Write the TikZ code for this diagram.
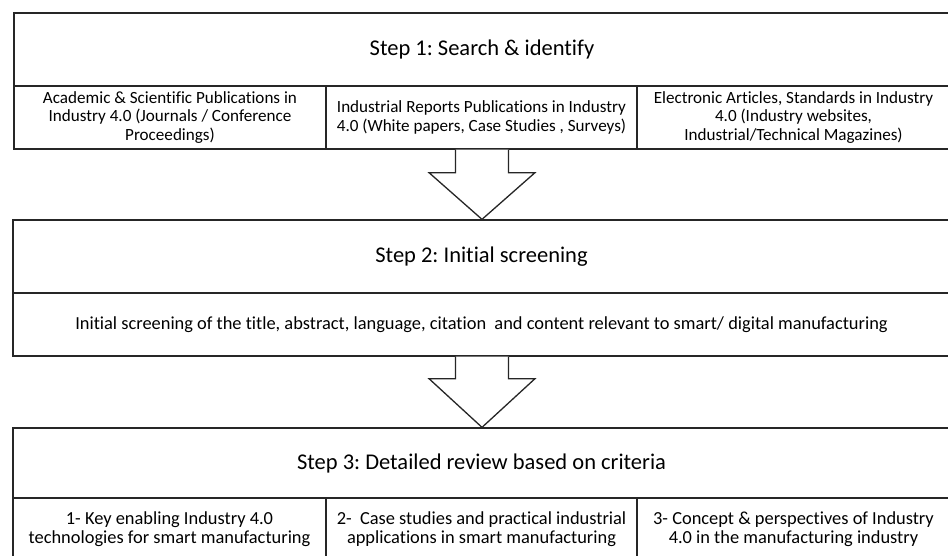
\documentclass[tikz,border=0pt]{standalone}
\usepackage{fontspec}
\setmainfont{Carlito}[Ligatures=NoCommon]
\frenchspacing
\usetikzlibrary{calc}
\begin{document}
\begin{tikzpicture}[x=1pt,y=-1pt,
  line width=1.3pt,
  cell/.style={draw=black!85, line width=1.3pt, align=center, inner sep=0pt, font=\fontsize{17.1}{18.3}\selectfont},
  wcell/.style={cell, font=\fontsize{18.4}{19}\selectfont},
  title/.style={draw=black!85, line width=1.3pt, align=center, inner sep=0pt, font=\fontsize{22.5}{26}\selectfont},
  blockarrow/.style={draw=black!85, line width=1.3pt, fill=white, line join=miter}
]
\useasboundingbox (0,0) rectangle (948,555);
\clip (0,0) rectangle (948,555);
% Step 1
\node[title, minimum width=936pt, minimum height=73pt] (t1) at (482,49.5) {Step 1: Search \& identify};
\node[cell, minimum width=312pt, minimum height=63pt] (a1) at (170,117.5) {Academic \& Scientific Publications in\\Industry 4.0 (Journals / Conference\\Proceedings)};
\node[cell, minimum width=311pt, minimum height=63pt] (a2) at (481.5,117.5) {Industrial Reports Publications in Industry\\4.0 (White papers, Case Studies , Surveys)};
\node[cell, minimum width=313pt, minimum height=63pt] (a3) at (793.5,117.5) {Electronic Articles, Standards in Industry\\4.0 (Industry websites,\\Industrial/Technical Magazines)};
% Step 2
\node[title, minimum width=937pt, minimum height=73pt] (t2) at (481.5,256.5) {Step 2: Initial screening};
\node[wcell, minimum width=937pt, minimum height=63pt] (b1) at (481.5,324.5) {Initial screening of the title, abstract, language, citation\ \ and content relevant to smart/ digital manufacturing};
% Step 3
\node[title, minimum width=937pt, minimum height=70pt] (t3) at (481.5,463) {Step 3: Detailed review based on criteria};
\node[wcell, minimum width=313pt, minimum height=62pt] (c1) at (169.5,529) {1- Key enabling Industry 4.0\\technologies for smart manufacturing};
\node[wcell, minimum width=311pt, minimum height=62pt] (c2) at (481.5,529) {2-\ \ Case studies and practical industrial\\applications in smart manufacturing};
\node[wcell, minimum width=313pt, minimum height=62pt] (c3) at (793.5,529) {3- Concept \& perspectives of Industry\\4.0 in the manufacturing industry};
% block arrows
\coordinate (p1) at ($(a2.south)+(0.5,0)$);
\coordinate (q1) at ($(t2.north)+(0.5,0)$);
\draw[blockarrow] ($(p1)+(-26.5,0)$) -- ($(p1)+(-26.5,23)$) -- ($(p1)+(-53,23)$) -- (q1)
  -- ($(p1)+(53,23)$) -- ($(p1)+(26.5,23)$) -- ($(p1)+(26.5,0)$);
\coordinate (p2) at ($(b1.south)+(0.5,0)$);
\coordinate (q2) at ($(t3.north)+(0.5,0)$);
\draw[blockarrow] ($(p2)+(-26.5,0)$) -- ($(p2)+(-26.5,22)$) -- ($(p2)+(-53,22)$) -- (q2)
  -- ($(p2)+(53,22)$) -- ($(p2)+(26.5,22)$) -- ($(p2)+(26.5,0)$);
\end{tikzpicture}
\end{document}
